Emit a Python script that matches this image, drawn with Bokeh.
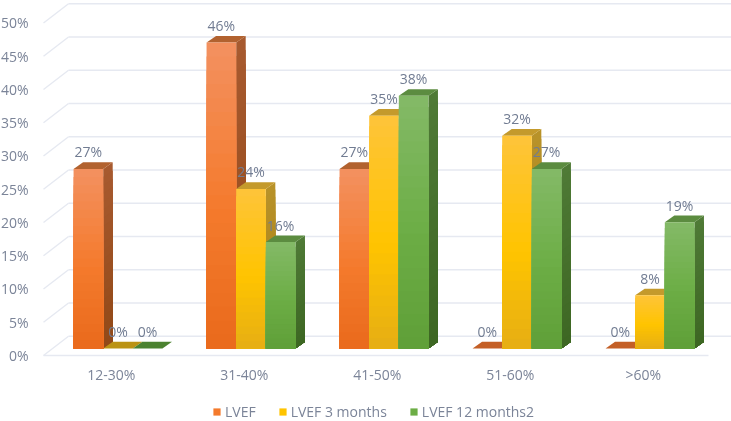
from bokeh.plotting import figure
from bokeh.embed import file_html
from bokeh.resources import INLINE
from bokeh.models import FixedTicker, PrintfTickFormatter, Legend, LegendItem, Range1d
from bokeh.core.properties import value as fixed

categories = ["12-30%", "31-40%", "41-50%", "51-60%", ">60%"]
series_names = ["LVEF", "LVEF 3 months", "LVEF 12 months2"]
lvef = [27, 46, 27, 0, 0]
lvef_3m = [0, 24, 35, 32, 8]
lvef_12m = [0, 16, 38, 27, 19]
y_ticks = [0, 5, 10, 15, 20, 25, 30, 35, 40, 45, 50]

series = [lvef, lvef_3m, lvef_12m]
palette = [
    dict(grad=("#f39160", "#f47a2c", "#e96a1c"), side=("#a85a30", "#914917"), cap="#b2622f", zero="#c45f26"),
    dict(grad=("#fec43a", "#ffc400", "#e6ae14"), side=("#b8922a", "#a87f10"), cap="#c49a2c", zero="#bb9314"),
    dict(grad=("#84b967", "#6cad45", "#5f9f38"), side=("#4f7a36", "#3d6723"), cap="#5c8c40", zero="#4b8230"),
]
FONT = "Open Sans"
TXT = "#7b8498"
LBL = "#717c92"
GRID = "#e6e9f1"

BAR_W = 0.2228
GROUP_OFF = 0.226
FLOOR_DX, FLOOR_DY = 0.188, 2.9
BASE_DY = 1.05
DEPTH_DX, DEPTH_DY = 0.0715, 1.0
SLICES = 22


def hex2rgb(h):
    return tuple(int(h[i:i + 2], 16) for i in (1, 3, 5))


def mix(a, b, t):
    a, b = hex2rgb(a), hex2rgb(b)
    return "#%02x%02x%02x" % tuple(round(a[i] + (b[i] - a[i]) * t) for i in range(3))


def grad(stops, t):
    return mix(stops[0], stops[1], t / 0.55) if t < 0.55 else mix(stops[1], stops[2], (t - 0.55) / 0.45)


p = figure(width=734, height=421, output_backend="svg", toolbar_location=None,
           x_range=Range1d(-0.0602, 5.173), y_range=Range1d(-9.925, 53.38),
           min_border_left=36, min_border_right=0, min_border_top=0, min_border_bottom=0,
           outline_line_color=None, background_fill_color="white", border_fill_color="white")
p.styles = {"position": "fixed", "left": "-3px", "top": "0px"}
p.grid.visible = False

n = len(categories)
p.segment(x0=[FLOOR_DX] * len(y_ticks), x1=[5.3] * len(y_ticks),
          y0=[t + FLOOR_DY for t in y_ticks], y1=[t + FLOOR_DY for t in y_ticks],
          line_color=GRID, line_width=1.4)
p.segment(x0=[0] * len(y_ticks), x1=[FLOOR_DX] * len(y_ticks),
          y0=y_ticks, y1=[t + FLOOR_DY for t in y_ticks], line_color=GRID, line_width=1.4)
p.segment(x0=[0], x1=[n], y0=[0], y1=[0], line_color=GRID, line_width=1.6)

legend_items = []
for c in range(n):
    for s, vals in enumerate(series):
        v = vals[c]
        pal = palette[s]
        l = c + GROUP_OFF + s * BAR_W
        r = l + BAR_W
        b = BASE_DY
        t = BASE_DY + v
        if v > 0:
            h = (t - b) / SLICES
            xs, ys, cols = [], [], []
            for k in range(SLICES):
                y1 = t - h * k
                xs.append([r, r + DEPTH_DX, r + DEPTH_DX, r])
                ys.append([b, b + DEPTH_DY, y1 + DEPTH_DY, y1])
                cols.append(mix(pal["side"][0], pal["side"][1], (k + 0.5) / SLICES))
            p.patches(xs, ys, fill_color=cols, line_color=None)
        p.patch([l, r, r + DEPTH_DX, l + DEPTH_DX], [t, t, t + DEPTH_DY, t + DEPTH_DY],
                fill_color=pal["cap"] if v > 0 else pal["zero"], line_color=None)
        if v > 0:
            tops = [t - h * k for k in range(SLICES)]
            cols = [grad(pal["grad"], (k + 0.5) / SLICES) for k in range(SLICES)]
            p.quad(left=[l] * SLICES, right=[r] * SLICES, top=tops, bottom=[b] * SLICES,
                   fill_color=cols, line_color=None)

for s, name in enumerate(series_names):
    q = p.quad(left=[0], right=[0], top=[0], bottom=[0],
               fill_color=palette[s]["grad"][1], line_color=None)
    legend_items.append(LegendItem(label=name, renderers=[q]))

for c in range(n):
    for s, vals in enumerate(series):
        p.text(x=[c + GROUP_OFF + (s + 0.5) * BAR_W], y=[BASE_DY + vals[c]],
               text=[f"{vals[c]}%"], text_align="center", text_baseline="middle",
               y_offset=-17, text_color=LBL, text_font=fixed(FONT), text_font_size="14px")

yax = p.yaxis[0]
yax.ticker = FixedTicker(ticks=y_ticks)
yax.formatter = PrintfTickFormatter(format="%d%%")
yax.axis_line_color = None
yax.major_tick_line_color = None
yax.minor_tick_line_color = None
yax.major_tick_out = 0
yax.major_tick_in = 0
yax.minor_tick_out = 0
yax.minor_tick_in = 0
yax.major_label_standoff = 7
yax.major_label_text_font = FONT
yax.major_label_text_font_size = "14px"
yax.major_label_text_color = TXT

xax = p.xaxis[0]
xax.fixed_location = 0
centres = [i + 0.51 for i in range(n)]
xax.ticker = FixedTicker(ticks=centres)
xax.major_label_overrides = {centres[i]: categories[i] for i in range(n)}
xax.axis_line_color = None
xax.major_tick_line_color = None
xax.minor_tick_line_color = None
xax.major_tick_out = 0
xax.major_tick_in = 0
xax.minor_tick_out = 0
xax.minor_tick_in = 0
xax.major_label_standoff = 10
xax.major_label_text_font = FONT
xax.major_label_text_font_size = "14px"
xax.major_label_text_color = TXT

legend = Legend(items=legend_items, orientation="horizontal", location=(177, 0),
                background_fill_alpha=0, border_line_color=None,
                glyph_width=9, glyph_height=9, label_standoff=4, spacing=22,
                margin=0, padding=0, label_text_line_height=0.8,
                label_text_font=FONT, label_text_font_size="14px", label_text_color=TXT)
p.add_layout(legend, "center")

open("out.html", "w").write(file_html(p, INLINE))
